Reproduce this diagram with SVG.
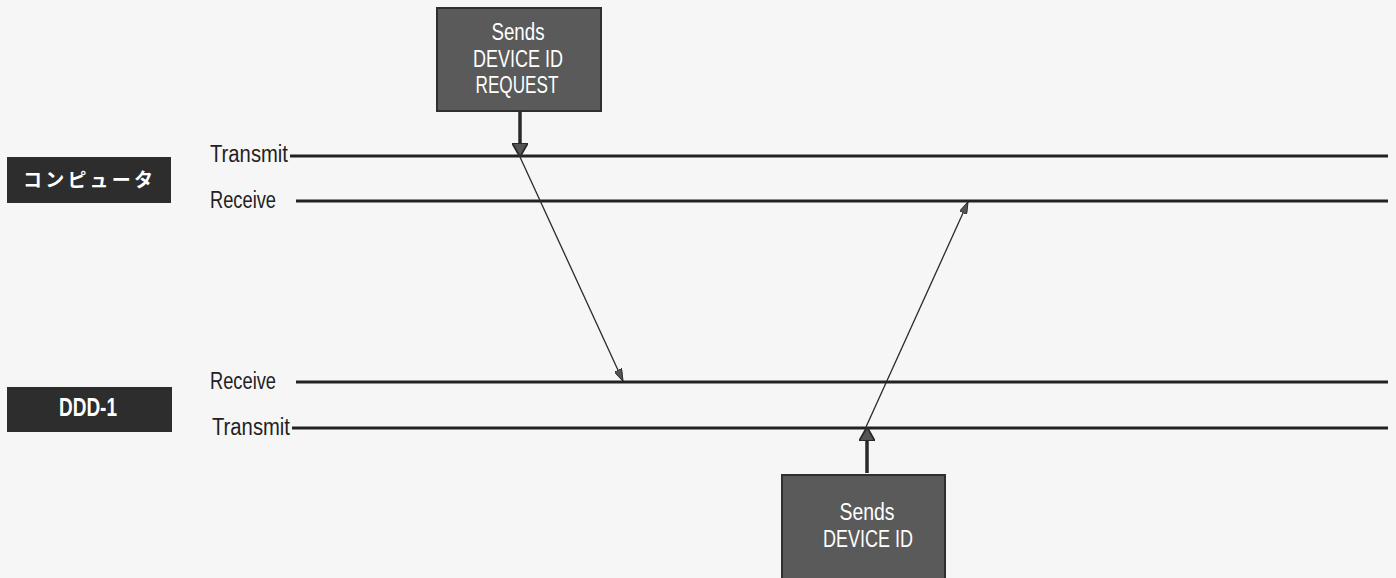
<svg xmlns="http://www.w3.org/2000/svg" width="1396" height="578" viewBox="0 0 1396 578">
<style>
.bg{fill:#f6f6f6}
.msg{fill:#5a5a5a;stroke:#2f2f2f;stroke-width:2}
.dev{fill:#2d2d2d}
.msgt{fill:#ffffff;font-family:"Liberation Sans Narrow","Liberation Sans",sans-serif;font-size:23px;text-anchor:middle}
.devt{fill:#ffffff;font-family:"Liberation Sans","Noto Sans CJK JP",sans-serif;font-size:19px}
.ddd{font-size:25px;font-weight:bold}
.lbl{fill:#222;font-family:"Liberation Sans Narrow","Liberation Sans",sans-serif;font-size:23px}
.line{stroke:#222;stroke-width:3;fill:none}
.thin{stroke:#2a2a2a;stroke-width:1.3;fill:none}
.thick{stroke:#2a2a2a;stroke-width:3.5;fill:none}
</style>
<defs>
<marker id="big" viewBox="0 0 14 16" refX="14" refY="8" markerWidth="14" markerHeight="16" markerUnits="userSpaceOnUse" orient="auto">
<path d="M0,0 L14,8 L0,16 Z" fill="#555" stroke="#2a2a2a" stroke-width="1.8"/>
</marker>
<marker id="small" viewBox="0 0 12 8" refX="12" refY="4" markerWidth="12" markerHeight="8" markerUnits="userSpaceOnUse" orient="auto">
<path d="M0,0 L12,4 L0,8 Z" fill="#555" stroke="#2a2a2a" stroke-width="1"/>
</marker>
</defs>
<rect class="bg" x="0" y="0" width="1396" height="578"/>

<g id="computer">
<rect class="dev" x="7" y="157" width="164" height="46"/>
<text class="devt" x="23" y="187" font-weight="bold" textLength="130" lengthAdjust="spacing">コンピュータ</text>
</g>
<g id="ddd1">
<rect class="dev" x="7" y="387" width="165" height="45"/>
<text class="devt ddd" x="59" y="416" textLength="58" lengthAdjust="spacingAndGlyphs">DDD-1</text>
</g>

<g id="labels">
<text class="lbl" x="210" y="162" textLength="78" lengthAdjust="spacingAndGlyphs">Transmit</text>
<text class="lbl" x="210" y="208" textLength="66" lengthAdjust="spacingAndGlyphs">Receive</text>
<text class="lbl" x="210" y="389" textLength="66" lengthAdjust="spacingAndGlyphs">Receive</text>
<text class="lbl" x="212" y="435" textLength="78" lengthAdjust="spacingAndGlyphs">Transmit</text>
</g>

<g id="request">
<rect class="msg" x="437" y="8" width="164" height="103"/>
<text class="msgt" x="518" y="40" textLength="53" lengthAdjust="spacingAndGlyphs">Sends</text>
<text class="msgt" x="518" y="67" textLength="90" lengthAdjust="spacingAndGlyphs">DEVICE ID</text>
<text class="msgt" x="517" y="93" textLength="83" lengthAdjust="spacingAndGlyphs">REQUEST</text>
</g>
<g id="response">
<rect class="msg" x="782" y="475" width="163" height="110"/>
<text class="msgt" x="867" y="520" textLength="55" lengthAdjust="spacingAndGlyphs">Sends</text>
<text class="msgt" x="868" y="547" textLength="90" lengthAdjust="spacingAndGlyphs">DEVICE ID</text>
</g>

<g id="connectors">
<line class="line" x1="290" y1="156" x2="1388" y2="156"/>
<line class="line" x1="296" y1="201" x2="1388" y2="201"/>
<line class="line" x1="296" y1="382" x2="1388" y2="382"/>
<line class="line" x1="292" y1="428" x2="1388" y2="428"/>
<line class="thick" x1="520" y1="111" x2="520" y2="157" marker-end="url(#big)"/>
<line class="thick" x1="867" y1="473" x2="867" y2="427" marker-end="url(#big)"/>
<line class="thin" x1="520" y1="157" x2="623" y2="381" marker-end="url(#small)"/>
<line class="thin" x1="866" y1="427" x2="968" y2="202" marker-end="url(#small)"/>
</g>
</svg>
